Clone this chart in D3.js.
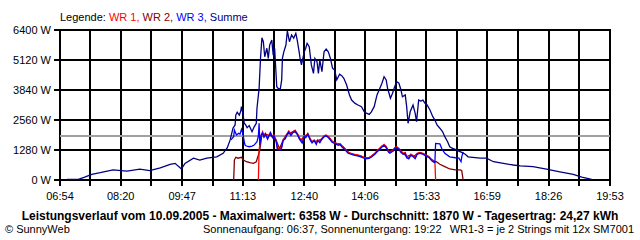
<!DOCTYPE html>
<html>
<head>
<meta charset="utf-8">
<script src="https://cdn.jsdelivr.net/npm/d3@7"></script>
<style>
  body { margin: 0; background: #fff; }
  svg { display: block; font-family: "Liberation Sans", Arial, sans-serif; }
</style>
</head>
<body>
<svg id="chart"></svg>
<script>
// x axis labels (every second grid line) and y ticks
const timeLabels = ["06:54","08:20","09:47","11:13","12:40","14:06","15:33","16:59","18:26","19:53"];
const yTicks = [0, 1280, 2560, 3840, 5120, 6400];
const average = 1870;

// Summe (navy)
const summeTimes = ["07:04","07:20","07:29","07:39","07:51","08:09","08:29","08:47","09:01","09:16",
  "09:30","09:37","09:46","09:51","10:03","10:12","10:22","10:36","10:45","10:51",
  "10:55","10:59","11:02","11:03","11:05","11:08","11:10","11:11","11:13","11:15",
  "11:17","11:19","11:22","11:26","11:29","11:32","11:33","11:36","11:38","11:40",
  "11:42","11:44","11:47","11:49","11:51","11:54","11:56","11:58","12:01","12:03",
  "12:06","12:08","12:09","12:11","12:14","12:16","12:19","12:22","12:25","12:28",
  "12:30","12:33","12:34","12:36","12:40","12:42","12:44","12:47","12:50","12:53",
  "12:55","12:58","13:00","13:02","13:05","13:08","13:11","13:14","13:17","13:20",
  "13:23","13:26","13:30","13:33","13:36","13:40","13:44","13:47","13:52","13:56",
  "14:01","14:05","14:08","14:12","14:15","14:19","14:23","14:26","14:30","14:33",
  "14:36","14:38","14:40","14:42","14:45","14:48","14:51","14:54","14:57","14:59",
  "15:03","15:05","15:07","15:10","15:14","15:17","15:19","15:22","15:25","15:28",
  "15:31","15:34","15:38","15:42","15:45","15:48","15:52","15:56","15:59","16:03",
  "16:06","16:10","16:13","16:18","16:23","16:28","16:32","16:49","16:58","17:08",
  "17:22","17:36","17:46","18:04","18:23","18:42","19:01","19:13","19:27"];
const summeW = [30,30,120,240,310,430,380,460,400,520,
  670,710,470,710,930,850,930,990,1140,1380,
  1710,2210,2350,2770,2890,2770,2940,3130,2850,2420,
  2350,2230,2320,2060,2270,2420,3060,3910,5190,6070,
  5900,5260,5620,5190,5760,5970,5330,5620,3980,3910,
  3880,4270,5190,5470,5760,6358,5900,6190,6050,6260,
  5970,5410,5190,4910,5470,5620,5830,5690,4910,4550,
  5190,5050,4550,5120,4620,5470,5590,5470,5190,4770,
  4690,4270,4510,4450,4340,4050,3630,3410,3270,3200,
  3130,2910,2850,2800,2910,3130,3630,3840,4130,4410,
  4270,3910,3700,3490,3700,3980,4190,4130,3840,3550,
  3630,3130,2420,2910,3200,2850,2490,3410,3370,3410,
  3270,3200,2990,2700,2560,2350,2210,2060,1850,1630,
  1420,1350,1320,1240,1180,1100,990,930,930,780,
  710,640,600,570,460,350,240,120,30];

// WR 1 (red)
const wr1Times = ["11:35","11:36","11:39","11:41","11:43","11:45","11:48","11:50","11:52","11:55",
  "11:57","12:00","12:02","12:06","12:08","12:10","12:13","12:16","12:18","12:21",
  "12:24","12:27","12:30","12:33","12:37","12:40","12:42","12:45","12:48","12:51",
  "12:54","12:57","12:59","13:02","13:05","13:08","13:11","13:14","13:16","13:19",
  "13:22","13:25","13:28","13:31","13:33","13:38","13:42","13:46","13:50","13:55",
  "13:59","14:03","14:07","14:12","14:16","14:20","14:24","14:29","14:33","14:36",
  "14:39","14:41","14:46","14:48","14:51","14:54","14:57","15:00","15:03","15:05",
  "15:08","15:11","15:14","15:17","15:20","15:24","15:28","15:32","15:37","15:41",
  "15:44","15:45","15:46"];
const wr1W = [0,1280,1920,2060,1850,1990,1780,1920,2040,1850,
  1920,1710,1350,1320,1420,1710,1800,1990,2090,1950,
  2060,2130,1990,1800,1630,1890,1850,1990,1780,1630,
  1710,1570,1710,1630,1780,1890,1920,1850,1780,1660,
  1610,1570,1520,1550,1460,1320,1180,1140,1100,1070,
  1040,990,930,950,1040,1140,1280,1420,1520,1420,
  1240,1180,1280,1380,1420,1350,1210,1140,1180,990,
  950,1100,1040,950,1140,1180,1140,1070,990,850,
  780,780,0];

// WR 2 (dark red)
const wr2Times = ["11:00","11:01","11:03","11:06","11:11","11:14","11:18","11:23","11:28","11:32",
  "11:35","11:37","11:40","11:45","11:50","11:55","12:00","12:05","12:10","12:15",
  "12:20","12:25","12:30","12:35","12:40","12:45","12:50","12:55","13:00","13:05",
  "13:10","13:15","13:20","13:25","13:30","13:35","13:40","13:45","13:50","13:55",
  "14:00","14:05","14:10","14:15","14:20","14:25","14:30","14:35","14:40","14:45",
  "14:50","14:55","15:00","15:05","15:10","15:15","15:20","15:25","15:30","15:35",
  "15:40","15:45","15:47","15:52","15:59","16:06","16:14","16:21","16:23","16:25"];
const wr2W = [0,850,970,930,970,850,780,740,710,780,
  1070,1280,1950,1960,1900,1880,1700,1330,1700,1950,
  2000,2080,1980,1700,1870,1960,1650,1650,1680,1760,
  1900,1820,1640,1560,1530,1420,1250,1130,1090,1060,
  1020,960,940,1010,1130,1260,1440,1450,1200,1260,
  1400,1300,1140,1000,1060,1000,1130,1160,1100,1010,
  880,790,780,670,570,470,430,430,400,0];

// WR 3 (blue)
const wr3Times = ["10:56","11:00","11:01","11:02","11:04","11:07","11:09","11:11","11:13","11:15",
  "11:16","11:18","11:22","11:26","11:29","11:33","11:35","11:36","11:37","11:39",
  "11:41","11:43","11:45","11:48","11:50","11:52","11:55","11:57","12:00","12:02",
  "12:06","12:08","12:10","12:13","12:16","12:18","12:21","12:24","12:27","12:30",
  "12:33","12:37","12:40","12:42","12:45","12:48","12:51","12:54","12:57","12:59",
  "13:02","13:05","13:08","13:11","13:14","13:16","13:19","13:22","13:25","13:28",
  "13:31","13:33","13:38","13:42","13:46","13:50","13:55","13:59","14:03","14:07",
  "14:12","14:16","14:20","14:24","14:29","14:33","14:36","14:39","14:41","14:46",
  "14:48","14:51","14:54","14:57","15:00","15:03","15:05","15:08","15:11","15:14",
  "15:17","15:20","15:24","15:28","15:32","15:37","15:41","15:44","15:45","15:46",
  "15:52","15:55","15:59","16:06","16:14","16:19","16:22","16:23","16:25"];
const wr3W = [1710,1850,2130,2060,1920,1990,1960,2160,1990,1630,
  1490,1450,1420,1450,1490,1630,1880,2420,1490,1920,
  2000,1830,1950,1740,1880,2000,1800,1880,1660,1300,
  1280,1380,1680,1760,1950,2050,1900,2020,2080,1950,
  1750,1580,1850,1800,1950,1730,1580,1680,1520,1680,
  1590,1740,1850,1880,1810,1740,1620,1570,1530,1480,
  1510,1420,1280,1140,1100,1060,1030,1000,950,900,
  920,1000,1100,1240,1380,1480,1380,1200,1140,1240,
  1340,1380,1310,1170,1100,1140,950,900,1060,1000,
  910,1100,1140,1100,1030,950,810,750,760,1560,
  1540,1320,1140,990,950,930,780,990,1200];

const width = 640, height = 240;
const plotL = 60, plotR = 610, plotT = 30, plotB = 180;

const mins = s => { const [h, m] = s.split(":").map(Number); return h * 60 + m; };
const pts = (times, vals) => times.map((t, i) => ({ t: mins(t), w: vals[i] }));

const svg = d3.select("#chart").attr("width", width).attr("height", height);
svg.append("rect").attr("width", width).attr("height", height).attr("fill", "#fff");

const labelMins = timeLabels.map(mins);
const x = d3.scaleLinear().domain([labelMins[0], labelMins[labelMins.length - 1]]).range([plotL, plotR]);
const y = d3.scaleLinear().domain([0, 6400]).range([plotB, plotT]);

// grid: labelled ticks plus a midpoint between each pair
const gridMins = [];
labelMins.forEach((m, i) => {
  gridMins.push(m);
  if (i < labelMins.length - 1) gridMins.push((m + labelMins[i + 1]) / 2);
});

const grid = svg.append("g").attr("stroke", "#000").attr("stroke-width", 2);
grid.selectAll(".v").data(gridMins).join("line")
  .attr("x1", d => Math.round(x(d))).attr("x2", d => Math.round(x(d)))
  .attr("y1", plotT - 1).attr("y2", plotB + 6);
grid.selectAll(".h").data(yTicks).join("line")
  .attr("x1", plotL - 6).attr("x2", plotR + 1)
  .attr("y1", d => y(d)).attr("y2", d => y(d));

// average line
svg.append("line")
  .attr("x1", plotL).attr("x2", plotR)
  .attr("y1", Math.round(y(average))).attr("y2", Math.round(y(average)))
  .attr("stroke", "#a0a0a0").attr("stroke-width", 2);

const line = d3.line().x(d => x(d.t)).y(d => y(d.w));
const series = [
  { p: pts(wr2Times, wr2W), c: "#800000" },
  { p: pts(wr1Times, wr1W), c: "#ff0000" },
  { p: pts(wr3Times, wr3W), c: "#0000ff" },
  { p: pts(summeTimes, summeW), c: "#000080" }
];
svg.selectAll(".s").data(series).join("path")
  .attr("fill", "none").attr("stroke", d => d.c).attr("stroke-width", 1.3)
  .attr("d", d => line(d.p));

// y labels
svg.append("g").selectAll("text").data(yTicks).join("text")
  .attr("x", 51).attr("y", d => y(d) + 4)
  .attr("text-anchor", "end").attr("font-size", 11)
  .text(d => d + " W");

// x labels
svg.append("g").selectAll("text").data(labelMins).join("text")
  .attr("x", d => x(d)).attr("y", 200)
  .attr("text-anchor", "middle").attr("font-size", 11)
  .text((d, i) => timeLabels[i]);

// legend
const leg = svg.append("text").attr("x", 60).attr("y", 21).attr("font-size", 11);
[["Legende: ", "#000"], ["WR 1, ", "#ff0000"], ["WR 2, ", "#800000"], ["WR 3, ", "#0000ff"], ["Summe", "#000080"]]
  .forEach(([t, c]) => leg.append("tspan").attr("fill", c).text(t));

// title and footer
svg.append("text").attr("x", 320).attr("y", 220).attr("text-anchor", "middle")
  .attr("font-size", 12).attr("font-weight", "bold")
  .text("Leistungsverlauf vom 10.09.2005 - Maximalwert: 6358 W - Durchschnitt: 1870 W - Tagesertrag: 24,27 kWh");
svg.append("text").attr("x", 5).attr("y", 233).attr("font-size", 11).text("© SunnyWeb");
svg.append("text").attr("x", 203).attr("y", 233).attr("font-size", 11)
  .text("Sonnenaufgang: 06:37, Sonnenuntergang: 19:22");
svg.append("text").attr("x", 634).attr("y", 233).attr("font-size", 11).attr("text-anchor", "end")
  .text("WR1-3 = je 2 Strings mit 12x SM7001");
</script>
</body>
</html>
